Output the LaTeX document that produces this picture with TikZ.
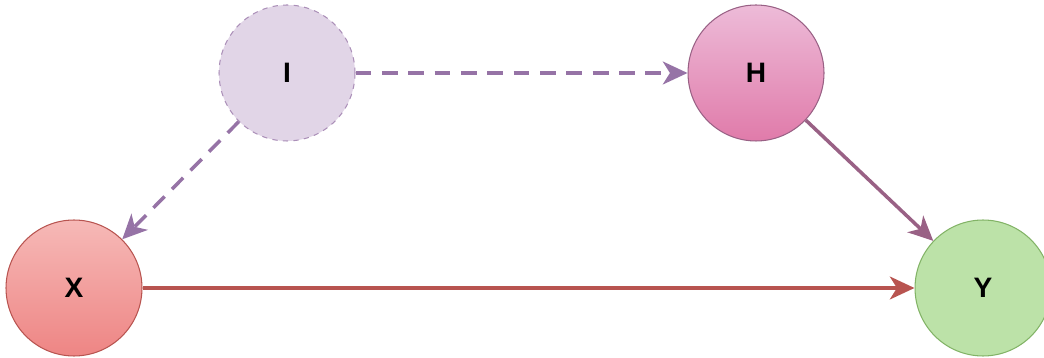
\documentclass[tikz,border=0pt]{standalone}
\usepackage{fontspec}
\setmainfont{Liberation Sans}
\usetikzlibrary{arrows.meta}

\definecolor{ipurple}{HTML}{E1D5E7}
\definecolor{ipurpled}{HTML}{9673A6}
\definecolor{hpinkt}{HTML}{EDBBD8}
\definecolor{hpinkb}{HTML}{E07BAA}
\definecolor{hpinkd}{HTML}{996185}
\definecolor{xredt}{HTML}{F6B9B7}
\definecolor{xredb}{HTML}{EE8584}
\definecolor{xredd}{HTML}{B85450}
\definecolor{ygreen}{HTML}{BCE2A8}
\definecolor{ygreend}{HTML}{82B366}

\begin{document}
\begin{tikzpicture}[x=0.02cm, y=0.02cm,
	every node/.style={font=\fontsize{16}{18}\selectfont\bfseries},
	var/.style={circle, minimum size=2.72cm, inner sep=0pt, line width=0.6pt},
	edge/.style={line width=2pt, -{Stealth[length=14pt, width=13pt, inset=4pt]}}]
	\useasboundingbox (0,0) rectangle (1044,358);
	\node[var, draw=ipurpled!80, fill=ipurple, dashed] (I) at (287,285) {I};
	\node[var, draw=hpinkd, top color=hpinkt, bottom color=hpinkb] (H) at (756,285) {H};
	\node[var, draw=xredd, top color=xredt, bottom color=xredb] (X) at (74,70) {X};
	\node[var, draw=ygreend, fill=ygreen] (Y) at (983,70) {Y};
	\draw[edge, ipurpled, dash pattern=on 9pt off 6pt] (I) -- (H);
	\draw[edge, ipurpled, dash pattern=on 9pt off 6pt] (I) -- (X);
	\draw[edge, hpinkd] (H) -- (Y);
	\draw[edge, xredd] (X) -- (Y);
\end{tikzpicture}
\end{document}
